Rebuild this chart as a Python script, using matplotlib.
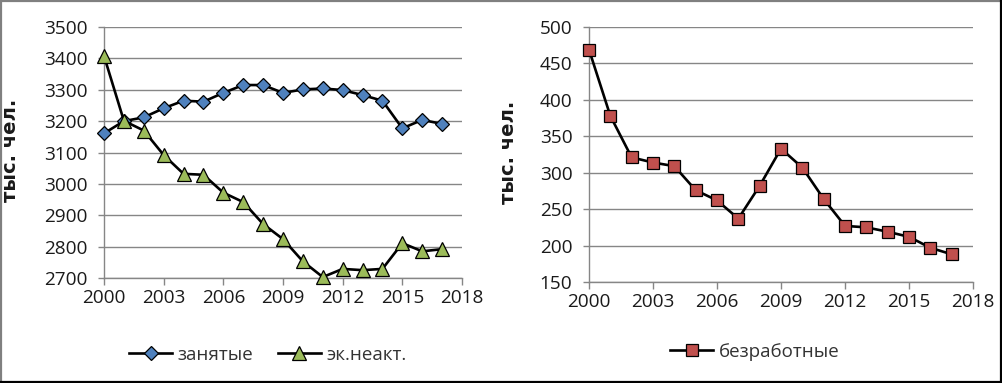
import matplotlib
matplotlib.use("Agg")
import matplotlib.pyplot as plt
from matplotlib.lines import Line2D

plt.rcParams['font.family'] = ['Open Sans', 'DejaVu Sans']

years = list(range(2000, 2018))
employed = [3161, 3200, 3212, 3241, 3265, 3262, 3290, 3315, 3315, 3290,
            3301, 3304, 3299, 3283, 3265, 3177, 3204, 3191]
inactive = [3408, 3201, 3170, 3092, 3032, 3029, 2972, 2942, 2872, 2824,
            2753, 2703, 2729, 2725, 2729, 2811, 2785, 2792]
unemployed = [469, 378, 321, 314, 309, 276, 262, 237, 282, 333,
              307, 264, 227, 225, 219, 212, 197, 188]

xticks = [2000, 2003, 2006, 2009, 2012, 2015, 2018]
left_yticks = [2700, 2800, 2900, 3000, 3100, 3200, 3300, 3400, 3500]
right_yticks = [150, 200, 250, 300, 350, 400, 450, 500]

label_employed = "занятые"
label_inactive = "эк.неакт."
label_unemployed = "безработные"
ylabel = "тыс. чел."

W, H = 1003, 383
fig = plt.figure(figsize=(W / 100, H / 100), dpi=100)

GRID = '#868686'
FS = 13.7
LFS = 13.5


def style(ax, yticks, ylim):
    ax.set_xlim(2000, 2018)
    ax.set_ylim(*ylim)
    ax.set_xticks(xticks)
    ax.set_yticks(yticks)
    ax.yaxis.grid(True, color=GRID, linewidth=1.0)
    ax.set_axisbelow(True)
    for s in ['top', 'right']:
        ax.spines[s].set_visible(False)
    for s in ['left', 'bottom']:
        ax.spines[s].set_color(GRID)
        ax.spines[s].set_linewidth(1.0)
    ax.tick_params(axis='x', direction='out', length=5, width=1.0, color=GRID,
                   pad=3, labelsize=FS, labelcolor='#1a1a1a')
    ax.tick_params(axis='y', direction='out', length=4, width=1.0, color=GRID,
                   pad=8, labelsize=FS, labelcolor='#1a1a1a')
    ax.set_ylabel(ylabel, fontsize=14, fontweight='bold', color='#1a1a1a',
                  family=['DejaVu Sans'])


ax1 = fig.add_axes([104 / W, 1 - 278 / H, (462 - 104) / W, (278 - 27) / H])
style(ax1, left_yticks, (2700, 3500))
ax1.yaxis.set_label_coords(-0.235, 0.51)
l1, = ax1.plot(years, employed, color='black', linewidth=1.9, marker='D',
               markersize=7, markerfacecolor='#4F81BD', markeredgecolor='black',
               markeredgewidth=0.9, label=label_employed, clip_on=False, zorder=3)
l2, = ax1.plot(years, inactive, color='black', linewidth=1.9, marker='^',
               markersize=10, markerfacecolor='#9BBB59', markeredgecolor='black',
               markeredgewidth=0.9, label=label_inactive, clip_on=False, zorder=3)
fig.legend(handles=[l1, l2], loc='center', bbox_to_anchor=(268 / W, 1 - 355 / H),
           ncol=2, frameon=False, fontsize=LFS, handlelength=2.3,
           handletextpad=0.3, columnspacing=1.3, labelcolor='#333333')

ax2 = fig.add_axes([589 / W, 1 - 282 / H, (973 - 589) / W, (282 - 27) / H])
style(ax2, right_yticks, (150, 500))
ax2.yaxis.set_label_coords(-0.185, 0.51)
l3, = ax2.plot(years, unemployed, color='black', linewidth=1.9, marker='s',
               markersize=8, markerfacecolor='#C0504D', markeredgecolor='black',
               markeredgewidth=0.9, label=label_unemployed, clip_on=False, zorder=3)
fig.legend(handles=[l3], loc='center', bbox_to_anchor=(755 / W, 1 - 352 / H),
           ncol=1, frameon=False, fontsize=LFS, handlelength=2.3,
           handletextpad=0.3, labelcolor='#333333')

# outer frame
def px(x, y):
    return x / W, 1 - y / H

for (xa, ya), (xb, yb), c in [((1, 1), (1001, 1), '#808080'),
                              ((1, 1), (1, 381.5), '#808080'),
                              ((1, 381.5), (1001.5, 381.5), 'black'),
                              ((1001.5, 1), (1001.5, 381.5), 'black')]:
    p1, p2 = px(xa, ya), px(xb, yb)
    fig.add_artist(Line2D([p1[0], p2[0]], [p1[1], p2[1]], color=c,
                          linewidth=1.6, transform=fig.transFigure))

fig.savefig('out.png', dpi=100)
